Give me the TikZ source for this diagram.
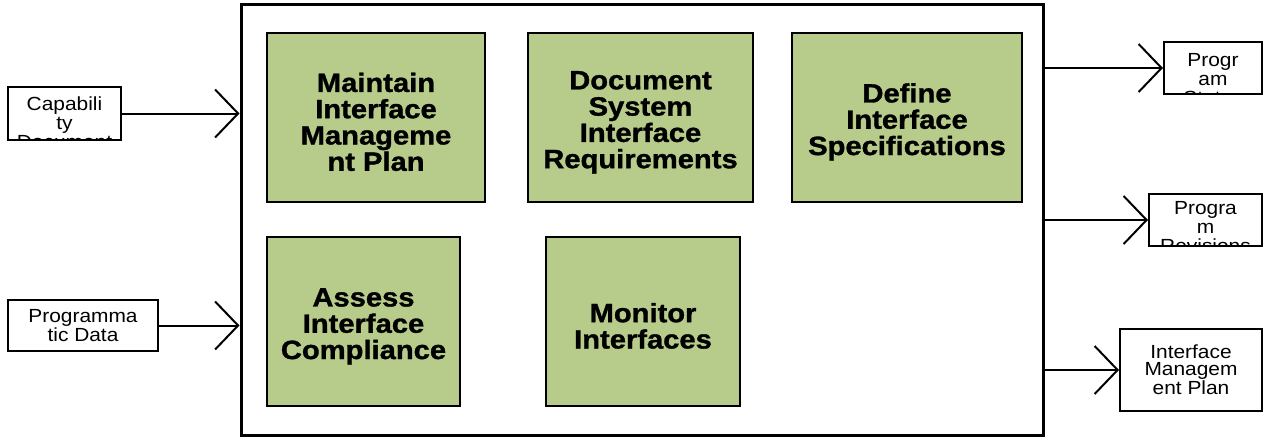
\documentclass[tikz,border=0pt]{standalone}
\usepackage{fontspec}
\setmainfont{Liberation Sans}[FakeStretch=1.1, BoldFeatures={FakeStretch=1.1, FakeBold=1.2}]
\usepackage{xcolor}
\usetikzlibrary{arrows.meta}

\definecolor{taskgreen}{RGB}{183,203,138}
\newcommand{\toppad}{\rule{0pt}{28pt}}

\begin{document}
\begin{tikzpicture}[
    x=1pt, y=-1pt,
    task/.style={draw, line width=2.5pt, fill=taskgreen, minimum height=169pt,
                 inner sep=0pt, align=center,
                 font=\fontsize{26.5}{26.3}\selectfont\bfseries},
    iobox/.style={draw, line width=2pt, fill=white, inner sep=0pt, align=center,
                  font=\fontsize{19}{17}\selectfont},
    cuttext/.style 2 args={path picture={
        \node[anchor=north, inner sep=0pt, align=center,
              font=\fontsize{19}{19}\selectfont]
          at ([yshift=-#1]path picture bounding box.north) {#2};}},
    flow/.style={line width=2pt, -{Straight Barb[length=23pt, width=48pt]}}
  ]
    \useasboundingbox (0,0) rectangle (1264,437);

    % outer frame
    \node[draw, line width=3pt, inner sep=0pt, minimum width=802pt,
          minimum height=431pt] (frame) at (642,219.5) {};

    % activities
    \node[task, minimum width=218pt] (maint) at (376,117.5)
      {\toppad Maintain\\Interface\\Manageme\\nt Plan};
    \node[task, minimum width=225pt] (docu) at (640.5,117.5)
      {\toppad Document\\System\\Interface\\Requirements};
    \node[task, minimum width=230pt] (defi) at (907,117.5)
      {\toppad Define\\Interface\\Specifications};
    \node[task, minimum width=193pt] (assess) at (363.5,321.5)
      {\toppad Assess\\Interface\\Compliance};
    \node[task, minimum width=194pt] (moni) at (643,321.5)
      {\toppad Monitor\\Interfaces};

    % inputs
    \node[iobox, minimum width=113pt, minimum height=53pt,
          cuttext={8pt}{Capabili\\ty\\Document}] (cap) at (64.5,113.5) {};
    \node[iobox, minimum width=150pt, minimum height=51pt] (prog) at (83,325.5)
      {Programma\\tic Data};

    % outputs
    \node[iobox, minimum width=98pt, minimum height=52pt,
          cuttext={10pt}{Progr\\am\\Status}] (stat) at (1213,68) {};
    \node[iobox, minimum width=113pt, minimum height=52pt,
          cuttext={6pt}{Progra\\m\\Revisions}] (revi) at (1205.5,220) {};
    \node[iobox, minimum width=142pt, minimum height=82pt] (imp) at (1191,370)
      {Interface\\Managem\\ent Plan};

    \draw[flow] (cap.east) -- (frame.west |- cap.east);
    \draw[flow] (prog.east) -- (frame.west |- prog.east);
    \draw[flow] (frame.east |- stat.west) -- (stat.west);
    \draw[flow] (frame.east |- revi.west) -- (revi.west);
    \draw[flow] (frame.east |- imp.west) -- (imp.west);
  \end{tikzpicture}
\end{document}
